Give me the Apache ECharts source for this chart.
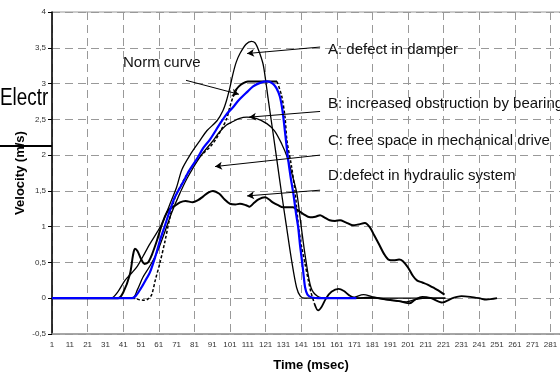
<!DOCTYPE html>
<html>
<head>
<meta charset="utf-8">
<script src="https://cdn.jsdelivr.net/npm/echarts@6/dist/echarts.min.js"></script>
<style>html,body{margin:0;padding:0;background:#fff}#c{width:560px;height:377px}</style>
</head>
<body>
<div id="c"></div>
<script>
// ---- data (time in msec, velocity in m/s) ----
const curveA = [[1,0],[34,0],[38,0.09],[42,0.25],[46,0.36],[49,0.45],[52,0.58],[56,0.76],[60,0.92],[63,1.05],[67,1.3],[71,1.55],[74,1.8],[79,2.02],[84,2.2],[88,2.34],[93.7,2.48],[97,2.62],[99,2.76],[101,2.95],[102.7,3.14],[104.5,3.3],[106.6,3.42],[110,3.55],[113,3.59],[115,3.57],[117,3.47],[119.5,3.28],[121,3.05],[122.3,2.81],[125,2.34],[127.4,1.92],[130,1.46],[132.8,0.99],[135.6,0.53],[138.4,0.15],[140.5,0.03],[143,0],[222,0]];
const curveB = [[1,0],[46,0],[49,0.12],[52,0.29],[56,0.45],[60,0.64],[64,0.9],[68,1.18],[72,1.42],[77,1.68],[84,1.97],[91.4,2.2],[95,2.32],[99,2.42],[102.7,2.47],[106,2.51],[110.5,2.53],[116,2.51],[121.7,2.44],[126,2.34],[130,2.16],[133,1.98],[136,1.72],[138.6,1.46],[141,1.0],[143.5,0.55],[146.5,0.15],[150,0.03],[155,0],[170,0.01],[176,0.05],[181,0.02],[188,-0.02],[195,-0.04],[200,-0.05],[205,-0.02],[212,0],[222,0]];
const curveD = [[1,0],[38,0],[41,0.08],[44.8,0.34],[46.5,0.6],[47.6,0.69],[49,0.66],[51,0.55],[53,0.48],[55,0.5],[57,0.6],[60,0.81],[63,1.05],[65.6,1.2],[68,1.27],[70,1.29],[72.9,1.34],[76,1.36],[80,1.34],[83,1.37],[85.8,1.42],[89,1.48],[91.4,1.5],[95,1.46],[98,1.38],[101,1.32],[104,1.31],[106.6,1.32],[110,1.3],[112,1.28],[114,1.32],[117,1.38],[120.7,1.41],[123,1.38],[125,1.34],[128,1.3],[130.8,1.27],[136.4,1.27],[139,1.23],[142,1.18],[146,1.13],[149,1.14],[151.6,1.16],[154,1.13],[157,1.09],[160,1.08],[162.8,1.09],[166,1.06],[170,1.02],[173,1.03],[176.8,1.05],[179.6,0.99],[182,0.88],[185,0.74],[187.5,0.62],[190,0.54],[193,0.53],[196,0.54],[198,0.52],[201,0.43],[203.8,0.31],[206,0.25],[209,0.22],[212,0.19],[215,0.15],[218,0.11],[221.5,0.05]];
const normRise = [[1,0],[46,0],[50,-0.02],[53,-0.03],[55,-0.01],[57,0.05],[59,0.25],[61.7,0.5],[64.5,0.8],[67,1.1],[70,1.4],[75,1.65],[80,1.85],[85,2.0],[90,2.12],[93,2.22],[96,2.35],[99,2.5],[101,2.68],[102.7,2.81],[105,2.93]];
const normTop = [[104,2.9],[106,2.96],[108,3.0],[111,3.03],[127.4,3.03]];
const normFall = [[127.4,3.03],[130,2.83],[131.9,2.53],[133,2.2],[135.5,1.85],[137.5,1.5],[139.5,1.0],[141,0.75],[143,0.5],[145,0.25],[146.5,0.08],[148.5,-0.08]];
const normTail = [[148.5,-0.08],[150.5,-0.17],[152.5,-0.12],[155,0],[158,0.09],[162,0.13],[165,0.1],[168,0.04],[172,0],[180,0.01],[190,-0.02],[196,-0.04],[202,-0.07],[205,-0.02],[209,0.02],[214,0],[220,-0.06],[226,0],[231,0.03],[236,0.02],[241,0],[245,-0.02],[251,0]];
const normBlue = [[1,0],[46,0],[48,0.03],[51,0.14],[54,0.27],[56,0.36],[59,0.58],[61.7,0.81],[64.5,1.02],[67.3,1.23],[70,1.41],[74.6,1.62],[78,1.78],[82.5,1.95],[86,2.1],[89.8,2.22],[95.4,2.44],[99,2.57],[102.7,2.67],[106,2.77],[110.5,2.88],[114,2.96],[117.9,3.01],[122,3.03],[125,3.0],[127,2.94],[129,2.82],[130.5,2.62],[132,2.3],[133.6,1.95],[135,1.7],[136.6,1.46],[138,1.2],[139.3,0.99],[140.3,0.75],[141.4,0.53],[142.3,0.33],[143.2,0.15],[144.5,0.05],[147,0.01],[152,0],[172,0]];
const arrowFrom = [[76.3,3.045],[151.6,3.51],[151.6,2.61],[151.6,2.0],[151.6,1.51]];
const arrowTo   = [[106,2.85],[110.6,3.42],[111.7,2.53],[92.6,1.84],[110.6,1.43]];
const annotations = ['Norm curve','A: defect in damper','B: increased obstruction by bearing','C: free space in mechanical drive','D:defect in hydraulic system'];
const lastTickLabel = 281;
const yTitle = 'Velocity (m/s)';
const xTitle = 'Time (msec)';
const sideTitle = 'Electr';

const FONT = '"Liberation Sans", Arial, sans-serif';
const chart = echarts.init(document.getElementById('c'), null, {renderer: 'canvas'});

function lineSeries(data, color, width, type, z) {
  return {type: 'line', data: data, xAxisIndex: 0, yAxisIndex: 0, showSymbol: false, smooth: 0.3,
    lineStyle: {color: color, width: width, type: type}, z: z || 2, animation: false, silent: true};
}

const annPos = [[123,63],[328,50],[328,104],[328,141],[328,176]];

const series = [
  lineSeries(curveA, '#000', 1.3, 'solid'),
  lineSeries(curveB, '#000', 1.3, 'solid'),
  lineSeries(curveD, '#000', 2, 'solid'),
  lineSeries(normRise, '#000', 1.5, [3,2]),
  lineSeries(normTop, '#000', 2, 'solid'),
  lineSeries(normFall, '#000', 1.5, [3,2]),
  lineSeries(normTail, '#000', 1.8, 'solid'),
  lineSeries(normBlue, '#0000ff', 2.2, 'solid', 3)
];
series[2].markLine = {
  silent: true, animation: false, symbol: ['none','arrow'], symbolSize: [6, 7],
  label: {show: false},
  lineStyle: {color: '#000', width: 1, type: 'solid'},
  data: arrowFrom.map((f, i) => [{coord: f}, {coord: arrowTo[i]}])
};

const graphics = [
  {type: 'text', x: 0, y: 99, z: -10, scaleX: 0.82, style: {text: sideTitle, font: '23px ' + FONT, fill: '#000', textVerticalAlign: 'middle'}},
  {type: 'line', z: 10, shape: {x1: 0, y1: 146, x2: 52, y2: 146}, style: {stroke: '#000', lineWidth: 2}},
  {type: 'text', x: 20, y: 173, rotation: Math.PI / 2, z: 10, style: {text: yTitle, font: 'bold 13px ' + FONT, fill: '#000', textAlign: 'center', textVerticalAlign: 'middle'}},
  {type: 'text', x: 311, y: 365, z: 10, style: {text: xTitle, font: 'bold 13px ' + FONT, fill: '#000', textAlign: 'center', textVerticalAlign: 'middle'}}
];
annotations.forEach((t, i) => {
  graphics.push({type: 'text', x: annPos[i][0], y: annPos[i][1], z: 10,
    style: {text: t, font: '15px ' + FONT, fill: '#111', textVerticalAlign: 'middle'}});
});

chart.setOption({
  animation: false,
  backgroundColor: '#fff',
  grid: {left: 52, top: 12, width: 518, height: 322, containLabel: false, outerBoundsMode: 'none',
    show: true, borderColor: '#999', borderWidth: 1, backgroundColor: 'transparent'},
  xAxis: [
    {type: 'value', min: 1, max: 292, interval: 10,
      axisLine: {show: true, onZero: false, lineStyle: {color: '#999', width: 1.5}},
      axisTick: {show: false},
      axisLabel: {fontSize: 8, color: '#333', margin: 7, fontFamily: FONT,
        formatter: v => (v > lastTickLabel ? '' : String(v))},
      splitLine: {show: false}},
    {type: 'value', min: 1, max: 292, interval: 20, position: 'bottom',
      axisLine: {show: false}, axisTick: {show: false}, axisLabel: {show: false},
      splitLine: {show: true, lineStyle: {color: '#999', width: 1, type: [8, 5]}}}
  ],
  yAxis: {type: 'value', min: -0.5, max: 4, interval: 0.5,
    axisLine: {show: true, onZero: false, lineStyle: {color: '#000', width: 1.5}},
    axisTick: {show: true, length: 4, lineStyle: {color: '#000'}},
    axisLabel: {fontSize: 8, color: '#333', margin: 6, fontFamily: FONT,
      formatter: v => String(v).replace('.', ',')},
    splitLine: {show: true, lineStyle: {color: '#999', width: 1, type: [8, 5]}}},
  series: series,
  graphic: graphics
});
</script>
</body>
</html>
